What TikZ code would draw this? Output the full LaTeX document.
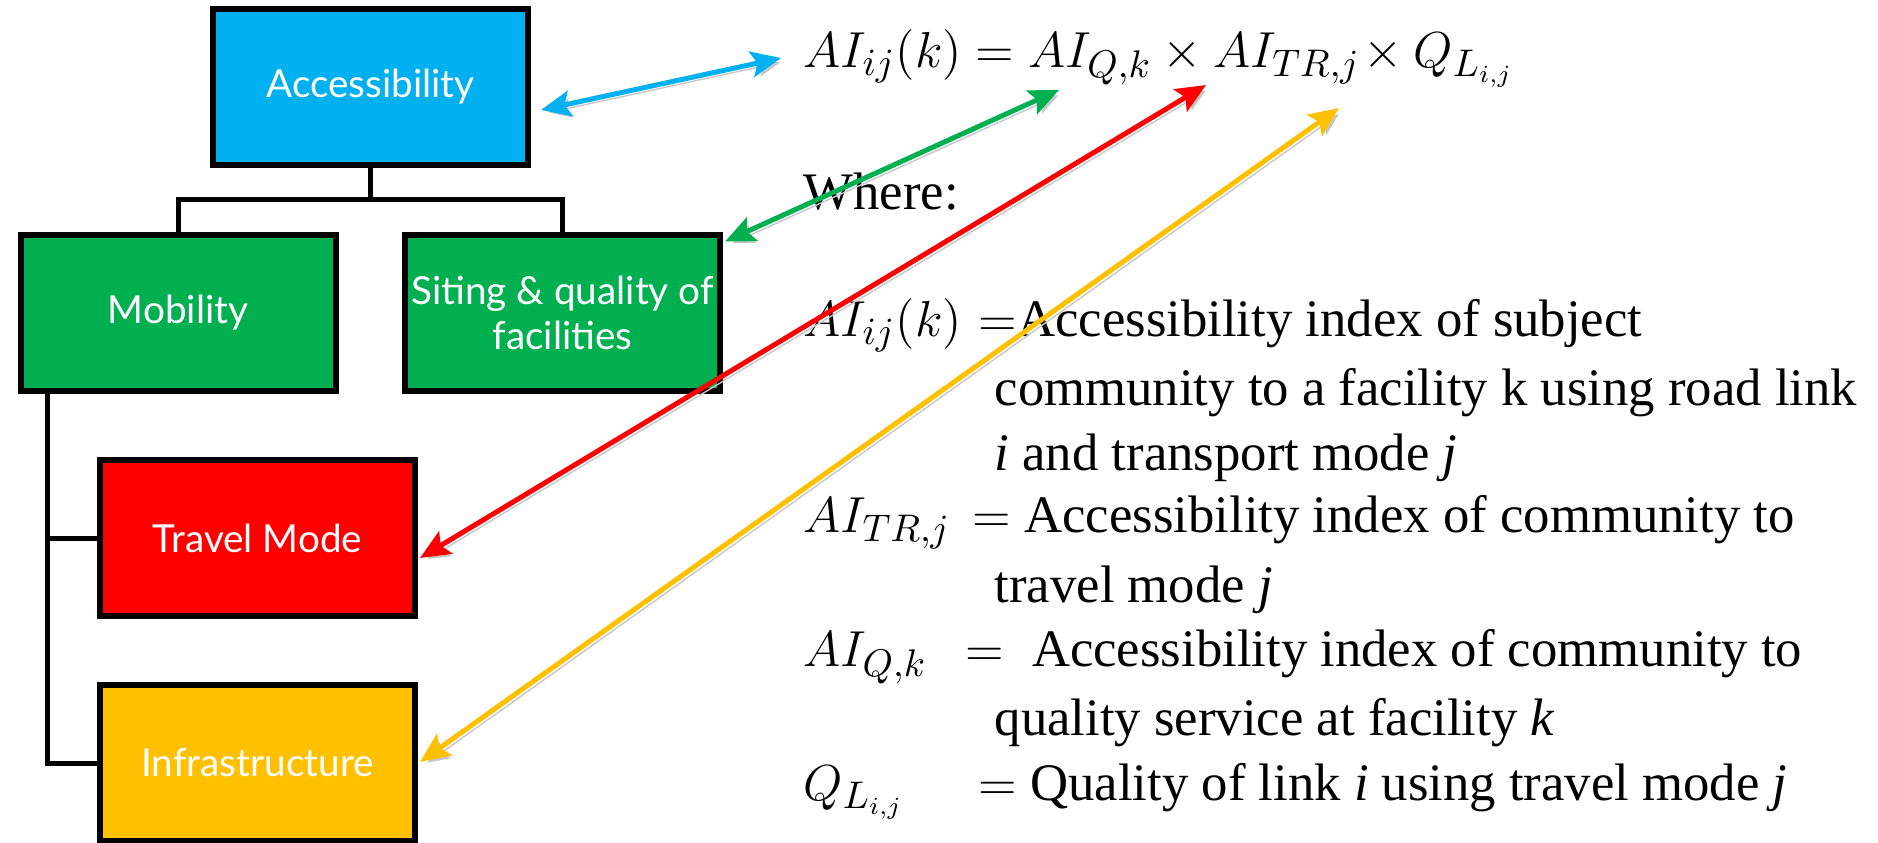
\documentclass[tikz,border=0pt]{standalone}
\usepackage{fontspec}
\setmainfont{Liberation Serif}
\newfontfamily\boxfont{Lato}
\usetikzlibrary{arrows.meta,calc}
\definecolor{accblue}{HTML}{00B0F0}
\definecolor{mobgreen}{HTML}{00B050}
\definecolor{modered}{HTML}{FF0000}
\definecolor{infraamber}{HTML}{FFC000}
\tikzset{
	box/.style = {draw, line width = 0.6mm, inner sep = 0pt, minimum width = 31.5mm, minimum height = 15.6mm, align = center, text = white, font = \boxfont\fontsize{11}{13}\selectfont},
	tree/.style = {line width = 0.5mm},
	link/.style = {line width = 0.5mm, >={Stealth[length = 3mm, width = 2.6mm, inset = 0.6mm]}, <->,
		preaction = {draw = black!22, transform canvas = {shift = {(0.35mm,-0.35mm)}}}},
	txt/.style = {anchor = base west, inner sep = 0pt, font = \rmfamily\fontsize{15}{18}\selectfont}
}

\begin{document}
\begin{tikzpicture}[x = 0.1mm, y = -0.1mm]
	\useasboundingbox (0,0) rectangle (1878,843);
	% hierarchy
	\node [box, fill = accblue] (acc) at (370.5,87) {Accessibility};
	\node [box, fill = mobgreen] (mob) at (178,313) {Mobility};
	\node [box, fill = mobgreen] (sit) at (562.5,313) {Siting \& quality of\\facilities};
	\node [box, fill = modered] (trav) at (257.5,538.5) {Travel Mode};
	\node [box, fill = infraamber] (infra) at (257.5,763) {Infrastructure};
	\draw [tree] (acc.south) -- ++(0,32) -| (mob.north);
	\draw [tree] (acc.south) -- ++(0,32) -| (sit.north);
	\draw [tree] ($(mob.south west)+(30,0)$) |- (trav.west);
	\draw [tree] ($(mob.south west)+(30,0)$) |- (infra.west);
	% formula and definitions
	\node [txt] (eqn) at (803,68) {$AI_{ij}(k) = AI_{Q,k} \times AI_{TR,j}\!\times Q_{L_{i,j}}$};
	\node [txt] (where) at (803,210) {Where:};
	\node [txt] (symA) at (803,337) {$AI_{ij}(k)$};
	\node [txt] (defA) at (978,337) {$=$Accessibility index of subject};
	\node [txt] (defAb) at (994,406) {community to a facility k using road link};
	\node [txt] (defAc) at (994,471) {\textit{i} and transport mode \textit{j}};
	\node [txt] (symTR) at (803,533) {$AI_{TR,j}$};
	\node [txt] (defTR) at (972,533) {$=$ Accessibility index of community to};
	\node [txt] (defQ) at (965,667) {$=$\; Accessibility index of community to};
	\node [txt] (defTRb) at (994,603) {travel mode \textit{j}};
	\node [txt] (symQ) at (803,667) {$AI_{Q,k}$};
	\node [txt] (defQb) at (994,735) {quality service at facility \textit{k}};
	\node [txt] (symL) at (803,800) {$Q_{L_{i,j}}$};
	\node [txt] (defL) at (978,800) {$=$ Quality of link \textit{i} using travel mode \textit{j}};
	% arrows
	\coordinate (tipAcc) at (781,58);
	\coordinate (tipQk) at (1059,90);
	\coordinate (tipTR) at (1206,85);
	\coordinate (tipQL) at (1339,108);
	\draw [link, accblue] ($(acc.east)+(10,23)$) -- (tipAcc);
	\draw [link, mobgreen] ($(sit.north east)+(2,9.5)$) -- (tipQk);
	\draw [link, modered] ($(trav.east)+(2,19.5)$) -- (tipTR);
	\draw [link, infraamber] ($(infra.east)+(2,-1)$) -- (tipQL);
\end{tikzpicture}
\end{document}
